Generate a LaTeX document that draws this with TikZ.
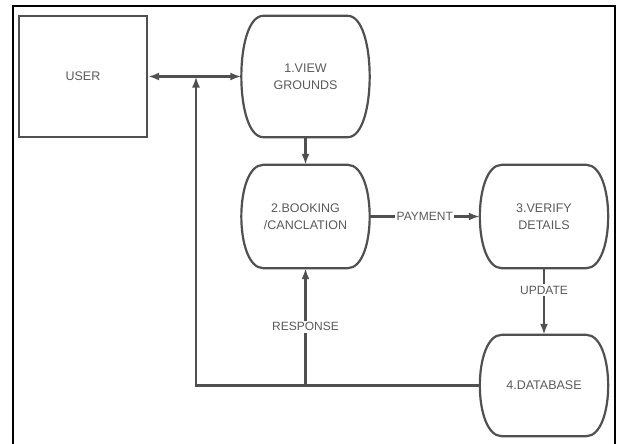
\documentclass[tikz,border=0pt]{standalone}
\usepackage{fontspec}
\setmainfont{Liberation Sans}
\usepackage{tikz}
\usetikzlibrary{arrows.meta,positioning,calc}
\usepackage{xcolor}
\definecolor{lineclr}{HTML}{505050}
\definecolor{textclr}{HTML}{5A5A5A}

\tikzset{
  entity/.style={draw=lineclr,line width=2.2pt,minimum width=128pt,minimum height=121pt,
    text=textclr,font=\fontsize{12.5}{16}\selectfont},
  proc/.style={minimum width=128pt,minimum height=#1,align=center,inner sep=0pt,
    text=textclr,font=\fontsize{12.5}{17}\selectfont,
    append after command={\pgfextra{
      \draw[lineclr,line width=2.2pt]
        ([xshift=22pt]\tikzlastnode.north west) -- ([xshift=-22pt]\tikzlastnode.north east)
        .. controls ([xshift=7.3pt]\tikzlastnode.north east) and ([xshift=7.3pt]\tikzlastnode.south east) .. ([xshift=-22pt]\tikzlastnode.south east)
        -- ([xshift=22pt]\tikzlastnode.south west)
        .. controls ([xshift=-7.3pt]\tikzlastnode.south west) and ([xshift=-7.3pt]\tikzlastnode.north west) .. cycle;}}},
  flow/.style={lineclr,line width=2.2pt},
  lbl/.style={fill=white,inner sep=1.5pt,text=textclr,font=\fontsize{12}{14}\selectfont}
}

\begin{document}
\begin{tikzpicture}[x=1pt,y=-1pt,>={Latex[length=11pt,width=8pt]}]
\useasboundingbox (0,0) rectangle (618,444);
\draw[black,line width=2.2pt] (13,6) rectangle (615,450);

\node[entity] (user) at (83,76.5) {USER};
\node[proc=121pt] (view) at (305.5,76.5) {1.VIEW\\GROUNDS};
\node[proc=103pt] (booking) at (305.5,216.5) {2.BOOKING\\/CANCLATION};
\node[proc=103pt] (verify) at (544,216.5) {3.VERIFY\\DETAILS};
\node[proc=101pt] (database) at (544,385.5) {4.DATABASE};

\coordinate (fb) at (196,76.5);

\draw[flow,<->] (user) -- (view);
\draw[flow,->] (view) -- (booking);
\draw[flow,->] (booking) -- node[lbl] {PAYMENT} (verify);
\draw[flow,->] (verify) -- node[lbl,pos=0.33] {UPDATE} (database);
\draw[flow,->] (database.west) -| (fb);
\draw[flow,->] (booking.south |- database.west) -- node[lbl] {RESPONSE} (booking.south);
\end{tikzpicture}
\end{document}
